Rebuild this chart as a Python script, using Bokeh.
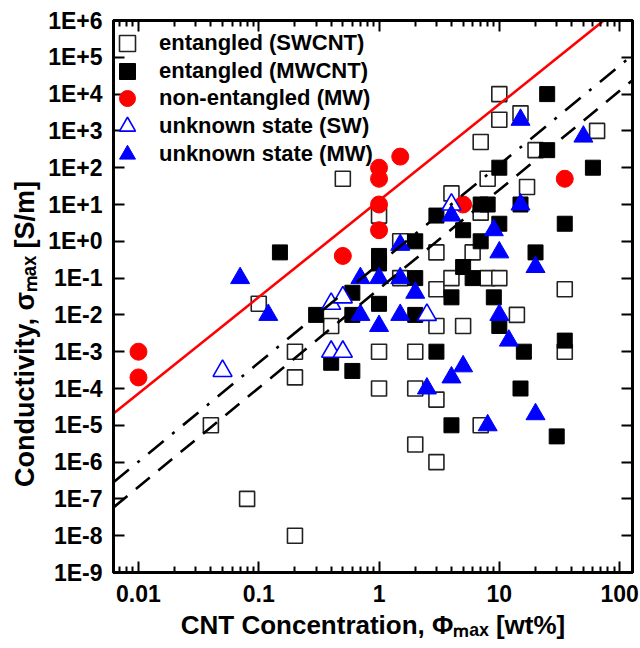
import numpy as np
from bokeh.plotting import figure
from bokeh.models import (LogAxis, FixedTicker, CustomJSTickFormatter,
                          Legend, LegendItem, Range1d)
from bokeh.embed import file_html
from bokeh.resources import INLINE

# ---------------- data ----------------
# entangled (SWCNT) - open squares
sw_x = [0.04, 0.08, 0.2, 0.1, 0.2, 0.2, 0.4, 0.5, 1, 1, 1, 1.5, 1.5, 2, 2, 2,
        3, 3, 3, 3, 3, 4, 4, 5, 6, 7, 7, 7, 8, 8, 10, 10, 10, 14, 15, 17, 20,
        35, 35, 65]
sw_y = [1e-5, 1e-7, 1e-8, 0.02, 1e-3, 2e-4, 5e-3, 50, 5, 1e-3, 1e-4, 1, 0.1,
        1e-3, 1e-4, 3e-6, 0.5, 0.05, 5e-3, 5e-5, 1e-6, 20, 0.1, 5e-3, 0.5, 500,
        6, 1e-5, 50, 0.1, 1e4, 2000, 0.1, 0.01, 3000, 30, 300, 0.05, 1e-3, 1000]

# entangled (MWCNT) - filled squares
mw_x = [0.15, 0.3, 0.4, 0.6, 0.6, 0.6, 1, 1, 1, 2, 2, 2, 3, 3, 4, 4, 5, 5, 6,
        7, 8, 7, 9, 10, 10, 10, 15, 16, 15, 20, 25, 25, 30, 35, 35, 60]
mw_y = [0.5, 0.01, 5e-4, 0.04, 0.01, 3e-4, 0.4, 0.25, 0.02, 1, 0.1, 0.01, 5,
        1e-3, 0.03, 1e-5, 2, 0.2, 0.1, 10, 10, 1, 0.03, 3, 100, 5e-3, 10, 1e-3,
        1e-4, 0.5, 1e4, 300, 5e-6, 3, 2e-3, 100]

# non-entangled (MW) - red circles
ne_x = [0.01, 0.01, 0.5, 1, 1, 1, 1, 1.5, 5, 35]
ne_y = [1e-3, 2e-4, 0.4, 100, 50, 10, 2, 200, 10, 50]

# unknown state (SW) - open triangles
us_x = [0.05, 0.4, 0.5, 0.4, 0.5, 2.5, 4]
us_y = [3e-4, 0.02, 0.03, 1e-3, 1e-3, 0.01, 10]

# unknown state (MW) - filled triangles
um_x = [0.07, 0.12, 0.7, 1, 0.7, 1, 1.5, 1.5, 1.5, 2, 4, 9, 10, 15, 20, 10, 12,
        5, 4, 2.5, 8, 20, 15, 50]
um_y = [0.1, 0.01, 0.1, 0.1, 0.01, 5e-3, 0.01, 0.1, 0.8, 0.04, 5, 2, 0.5, 10,
        0.2, 0.01, 2e-3, 4e-4, 2e-4, 1e-4, 1e-5, 2e-5, 2000, 700]

legend_labels = ["entangled (SWCNT)", "entangled (MWCNT)", "non-entangled (MW)",
                 "unknown state (SW)", "unknown state (MW)"]

# power-law fit lines: sigma = prefactor * phi ** exponent
fit_red = (12.7, 2.62)
fit_dashdot = (0.245, 2.69)
fit_dash = (0.051, 2.69)

x_lims = [0.0062, 128]
y_lims = [1e-9, 1e6]

x_tick_vals = [0.01, 0.1, 1, 10, 100]
x_tick_labels = ["0.01", "0.1", "1", "10", "100"]
y_tick_vals = [1e-9, 1e-8, 1e-7, 1e-6, 1e-5, 1e-4, 1e-3, 1e-2, 1e-1, 1e0,
               1e1, 1e2, 1e3, 1e4, 1e5, 1e6]
y_tick_labels = ["1E-9", "1E-8", "1E-7", "1E-6", "1E-5", "1E-4", "1E-3", "1E-2",
                 "1E-1", "1E+0", "1E+1", "1E+2", "1E+3", "1E+4", "1E+5", "1E+6"]
x_minor = [m * d for d in [0.001, 0.01, 0.1, 1, 10] for m in range(2, 10)]
x_minor = [v for v in x_minor if x_lims[0] <= v <= x_lims[1]]

x_title = "CNT Concentration, \u03a6\u2098\u2090\u2093 [wt%]"
y_title = "Conductivity, \u03c3\u2098\u2090\u2093 [S/m]" + "\u00a0" * 10

FONT = "Liberation Sans"

# ---------------- figure ----------------
p = figure(width=640, height=648, x_axis_type="log", y_axis_type="log",
           x_range=Range1d(*x_lims), y_range=Range1d(*y_lims),
           output_backend="svg", toolbar_location=None,
           min_border_left=113, min_border_right=8, min_border_top=20,
           min_border_bottom=76)
p.grid.visible = False
p.outline_line_color = "black"
p.outline_line_width = 3
p.background_fill_color = "white"
p.border_fill_color = "white"

fmt_code = """
let best = 0, bd = Infinity;
for (let i = 0; i < vals.length; i++) {
  const d = Math.abs(Math.log10(tick) - Math.log10(vals[i]));
  if (d < bd) { bd = d; best = i; }
}
return labels[best];
"""
xticker = FixedTicker(ticks=x_tick_vals, minor_ticks=x_minor)
yticker = FixedTicker(ticks=y_tick_vals, minor_ticks=[])
xfmt = CustomJSTickFormatter(args=dict(vals=x_tick_vals, labels=x_tick_labels), code=fmt_code)
yfmt = CustomJSTickFormatter(args=dict(vals=y_tick_vals, labels=y_tick_labels), code=fmt_code)
blank = CustomJSTickFormatter(code="return '';")


def style_axis(ax, major_len, minor_len, show_labels, standoff=0, title_size="27px"):
    ax.axis_line_color = "black"
    ax.axis_line_width = 3
    ax.major_tick_line_color = "black"
    ax.major_tick_line_width = 2
    ax.minor_tick_line_color = "black"
    ax.minor_tick_line_width = 2
    ax.major_tick_in = major_len
    ax.major_tick_out = 0
    ax.minor_tick_in = minor_len
    ax.minor_tick_out = 0
    if show_labels:
        ax.major_label_text_font = FONT
        ax.major_label_text_font_style = "bold"
        ax.major_label_text_font_size = "23px"
        ax.major_label_text_color = "black"
        ax.major_label_standoff = standoff
        ax.axis_label_text_font = FONT
        ax.axis_label_text_font_style = "bold"
        ax.axis_label_text_font_size = title_size
        ax.axis_label_text_color = "black"
    else:
        ax.major_label_text_font_size = "0px"
        ax.major_label_standoff = 0


xa = p.xaxis[0]
xa.ticker = xticker
xa.formatter = xfmt
style_axis(xa, 11, 6, True, 12, "26px")
xa.axis_label = x_title
xa.axis_label_standoff = 5

ya = p.yaxis[0]
ya.ticker = yticker
ya.formatter = yfmt
style_axis(ya, 11, 0, True, 11, "27px")
ya.axis_label = y_title
ya.axis_label_standoff = 5

top = LogAxis(ticker=FixedTicker(ticks=x_tick_vals, minor_ticks=x_minor), formatter=blank)
style_axis(top, 11, 6, False)
p.add_layout(top, "above")

right = LogAxis(ticker=FixedTicker(ticks=y_tick_vals, minor_ticks=[]), formatter=blank)
style_axis(right, 11, 0, False)
p.add_layout(right, "right")

# ---------------- markers ----------------
r_sw = p.scatter(sw_x, sw_y, marker="square", size=15, fill_color="white",
                 line_color="#222222", line_width=1.6)
r_mw = p.scatter(mw_x, mw_y, marker="square", size=15, fill_color="black",
                 line_color="black", line_width=1)
r_ne = p.scatter(ne_x, ne_y, marker="circle", size=17, fill_color="#ff0000",
                 line_color="#ff0000", line_width=1)
r_us = p.scatter(us_x, us_y, marker="triangle", size=19, fill_color="white",
                 line_color="#0000ff", line_width=1.6)
r_um = p.scatter(um_x, um_y, marker="triangle", size=19, fill_color="#0000ff",
                 line_color="#0000ff", line_width=1)

# ---------------- fit lines ----------------
xs = np.array(x_lims, dtype=float)
p.line(xs, fit_red[0] * xs ** fit_red[1], line_color="#ff0000", line_width=2.6)
p.line(xs, fit_dashdot[0] * xs ** fit_dashdot[1], line_color="black",
       line_width=2.6, line_dash="20 11 3 11")
p.line(xs, fit_dash[0] * xs ** fit_dash[1], line_color="black",
       line_width=2.6, line_dash="18 11")

# ---------------- legend (one box per row) ----------------
row_top_center = 23      # px below frame top of the first row centre
row_pitch = 27.7
frame_h = 552
for i, (lbl, rend) in enumerate(zip(legend_labels, [r_sw, r_mw, r_ne, r_us, r_um])):
    centre_from_bottom = frame_h - (row_top_center + i * row_pitch)
    leg = Legend(items=[LegendItem(label=lbl, renderers=[rend])],
                 location=(-6, int(round(centre_from_bottom - 20))),
                 orientation="vertical", glyph_width=40, glyph_height=40,
                 label_height=40, spacing=0, padding=0, margin=0,
                 label_standoff=12, label_text_font=FONT,
                 label_text_font_style="bold", label_text_font_size="22px",
                 label_text_color="black", border_line_color=None,
                 background_fill_alpha=0)
    p.add_layout(leg)

open("out.html", "w").write(file_html(p, INLINE))
